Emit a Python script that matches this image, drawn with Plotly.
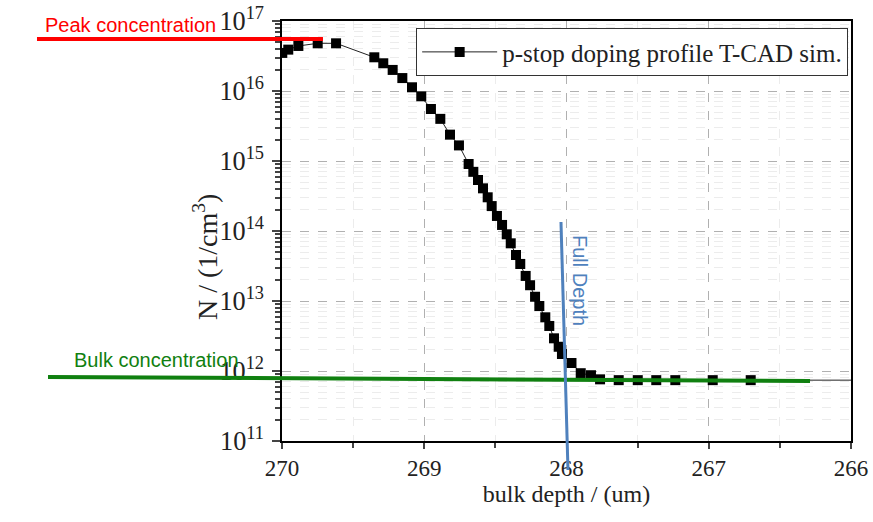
import plotly.graph_objects as go

# bulk depth (um) and doping concentration (1/cm^3)
depth = [269.998, 269.956, 269.885, 269.749, 269.620, 269.351, 269.288, 269.222,
         269.154, 269.086, 269.021, 268.953, 268.887, 268.819, 268.756, 268.688,
         268.655, 268.622, 268.587, 268.554, 268.526, 268.489, 268.453, 268.420,
         268.392, 268.355, 268.325, 268.287, 268.256, 268.221, 268.191, 268.149,
         268.121, 268.088, 268.055, 268.032, 267.965, 267.900, 267.828, 267.764,
         267.633, 267.499, 267.369, 267.235, 266.972, 266.705]
conc = [3.5e16, 3.9e16, 4.4e16, 4.8e16, 4.8e16, 3.03e16, 2.49e16, 2.0e16,
        1.53e16, 1.13e16, 8.4e15, 5.53e15, 4.0e15, 2.38e15, 1.67e15, 9.06e14,
        7.0e14, 5.35e14, 4.07e14, 3.03e14, 2.27e14, 1.64e14, 1.22e14, 8.97e13,
        6.67e13, 4.54e13, 3.38e13, 2.28e13, 1.68e13, 1.15e13, 8.48e12, 5.85e12,
        4.4e12, 2.93e12, 2.22e12, 1.75e12, 1.3e12, 9.3e11, 8.7e11, 7.6e11,
        7.4e11, 7.4e11, 7.4e11, 7.4e11, 7.4e11, 7.4e11]
# profile continues (unmarked) to the axis end
tail_depth = [266.705, 266.0]
tail_conc = [7.4e11, 7.4e11]

series_name = "p-stop doping profile T-CAD sim."
x_ticks = [270, 269, 268, 267, 266]
x_tick_text = ["270", "269", "268", "267", "266"]

serif = "Liberation Serif"
sans = "Liberation Sans"

fig = go.Figure()
fig.add_trace(go.Scatter(x=tail_depth, y=tail_conc, mode="lines",
                         line=dict(color="#222", width=1), showlegend=False,
                         hoverinfo="skip"))
fig.add_trace(go.Scatter(x=depth, y=conc, mode="lines+markers", name=series_name,
                         line=dict(color="#222", width=1),
                         marker=dict(symbol="square", size=10, color="black")))

fig.update_layout(
    width=873, height=522, paper_bgcolor="white", plot_bgcolor="white",
    margin=dict(l=282, r=22, t=21, b=81),
    font=dict(family=serif, color="#222"),
    showlegend=True,
    xaxis=dict(range=[270, 266], tickvals=x_ticks, ticktext=x_tick_text, ticks="outside",
               ticklen=6, tickwidth=1.5, linecolor="black", linewidth=1.5, mirror=True,
               showgrid=True, gridcolor="#b0b0b0", griddash="dash", gridwidth=1,
               ticklabeloverflow="allow",
               minor=dict(dtick=0.5, tick0=270, ticks="outside", ticklen=5,
                          showgrid=True, gridcolor="#ececec"),
               title=dict(text="bulk depth / (um)",
                          font=dict(family=serif, size=24, color="#222"), standoff=3),
               zeroline=False, automargin=False),
    yaxis=dict(type="log", range=[11, 17], dtick=1, exponentformat="power",
               ticks="outside", ticklen=8, tickwidth=1.5, linecolor="black",
               linewidth=1.5, mirror=True, showgrid=True, gridcolor="#b0b0b0",
               griddash="dash", tickfont=dict(family=serif, size=21, color="#222"),
               ticklabeloverflow="allow",
               minor=dict(ticks="outside", ticklen=5, showgrid=True, gridcolor="#ececec"),
               ticklabelstandoff=4, automargin=False),
    legend=dict(x=0.995, y=0.983, xanchor="right", yanchor="top",
                bordercolor="#333", borderwidth=1, bgcolor="white",
                font=dict(family=serif, size=25, color="#222"), itemwidth=75),
    shapes=[
        dict(type="line", xref="paper", yref="paper", x0=-0.4306, y0=0.957, x1=0.072, y1=0.957,
             line=dict(color="#ff0000", width=4)),
        dict(type="line", xref="paper", yref="paper", x0=-0.4112, y0=0.1524, x1=0.928, y1=0.1429,
             line=dict(color="#108010", width=4)),
        dict(type="line", xref="paper", yref="paper", x0=0.4903, y0=0.5214, x1=0.5026, y1=-0.069,
             line=dict(color="#4f81bd", width=3)),
    ],
    annotations=[
        dict(text="N / (1/cm<sup>3</sup>)", xref="paper", yref="paper", x=-0.1353, y=0.438,
             xanchor="center", yanchor="middle", textangle=-90,
             showarrow=False, font=dict(family=serif, size=28, color="#222")),
        dict(text="Peak concentration", xref="paper", yref="paper", x=-0.267, y=0.990,
             xanchor="center", yanchor="middle",
             showarrow=False, font=dict(family=sans, size=20, color="#ff0000")),
        dict(text="Bulk concentration", xref="paper", yref="paper", x=-0.2214, y=0.193,
             xanchor="center", yanchor="middle",
             showarrow=False, font=dict(family=sans, size=20, color="#108010")),
        dict(text="Full Depth", xref="paper", yref="paper", x=0.524, y=0.383,
             xanchor="center", yanchor="middle",
             showarrow=False, textangle=90, font=dict(family=sans, size=20, color="#4f81bd")),
    ],
)
fig.update_xaxes(tickfont_family="Liberation Serif, Times New Roman, serif",
                 tickfont_size=23, tickfont_color="#222")

fig.write_html("out.html", config={"displayModeBar": False},
               post_script="document.body.style.margin='0';document.body.style.overflow='hidden';")
